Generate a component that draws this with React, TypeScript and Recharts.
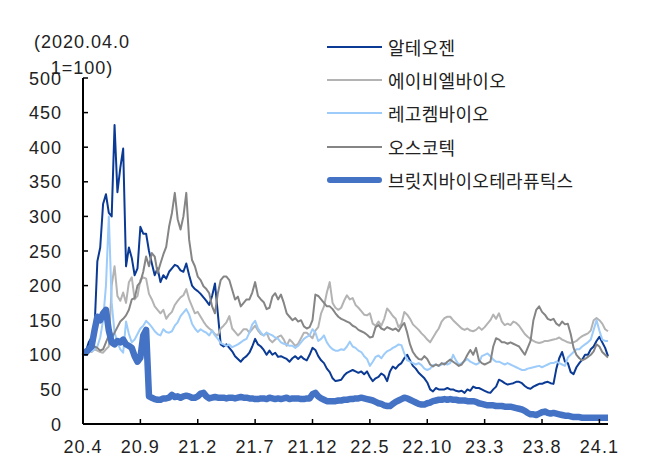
import React from 'react';
import { LineChart, Line, XAxis, YAxis } from 'recharts';

// one label per month, 4 points per month (roughly weekly)
const months = [
  '20.4', '20.5', '20.6', '20.7', '20.8', '20.9', '20.10', '20.11', '20.12',
  '21.1', '21.2', '21.3', '21.4', '21.5', '21.6', '21.7', '21.8', '21.9', '21.10', '21.11', '21.12',
  '22.1', '22.2', '22.3', '22.4', '22.5', '22.6', '22.7', '22.8', '22.9', '22.10', '22.11', '22.12',
  '23.1', '23.2', '23.3', '23.4', '23.5', '23.6', '23.7', '23.8', '23.9', '23.10', '23.11', '23.12',
  '24.1',
];
const tickLabels = ['20.4', '20.9', '21.2', '21.7', '21.12', '22.5', '22.10', '23.3', '23.8', '24.1'];
const yTicks = [0, 50, 100, 150, 200, 250, 300, 350, 400, 450, 500];

const alteogen = [
  100, 105, 118, 125, 135, 235, 255, 318, 332, 305, 300, 432, 335, 370, 398, 228, 255, 240, 215, 225,
  285, 275, 275, 250, 232, 215, 225, 205, 215, 210, 220, 225, 230, 228, 222, 220, 232, 215, 200, 195,
  192, 188, 183, 178, 172, 185, 203, 160, 115, 112, 115, 110, 105, 98, 94, 90, 95, 98, 103, 112,
  123, 115, 112, 107, 100, 106, 100, 103, 97, 98, 96, 94, 90, 95, 98, 94, 98, 94, 92, 100,
  110, 107, 98, 92, 88, 80, 75, 66, 62, 63, 64, 70, 74, 76, 78, 76, 74, 76, 72, 76,
  68, 62, 66, 68, 73, 70, 62, 76, 83, 80, 85, 88, 95, 100, 92, 84, 80, 74, 70, 66,
  60, 50, 47, 52, 50, 50, 50, 52, 50, 50, 48, 47, 48, 45, 50, 48, 54, 52, 52, 50,
  48, 46, 45, 50, 54, 64, 62, 59, 57, 58, 59, 61, 61, 59, 55, 52, 51, 54, 56, 58,
  58, 60, 61, 59, 58, 80, 95, 104, 90, 88, 75, 72, 82, 88, 93, 100, 100, 108, 112, 120,
  126, 118, 110, 98,
];

const abl = [
  100, 103, 106, 104, 108, 106, 104, 103, 108, 112, 200, 228, 185, 178, 190, 175, 205, 212, 180, 185,
  208, 212, 210, 188, 180, 170, 165, 160, 165, 152, 158, 162, 172, 178, 183, 186, 195, 180, 170, 160,
  162, 155, 148, 142, 138, 135, 130, 128, 138, 142, 147, 156, 138, 133, 128, 132, 137, 137, 132, 137,
  142, 135, 130, 128, 132, 122, 118, 122, 126, 128, 122, 113, 122, 118, 113, 116, 124, 132, 132, 128,
  124, 135, 140, 160, 170, 190, 205, 175, 168, 165, 168, 178, 186, 180, 182, 172, 168, 163, 158, 157,
  160, 145, 142, 148, 142, 152, 167, 162, 156, 152, 140, 145, 162, 158, 152, 144, 140, 136, 131, 127,
  122, 118, 125, 132, 138, 148, 153, 155, 155, 150, 146, 142, 138, 136, 138, 135, 134, 136, 140, 136,
  140, 145, 150, 158, 152, 160, 148, 143, 145, 143, 148, 146, 142, 136, 130, 126, 123, 120, 118, 117,
  118, 120, 120, 121, 122, 123, 125, 122, 120, 118, 117, 118, 120, 124, 127, 129, 131, 135, 150, 153,
  150, 145, 137, 134,
];

const legochem = [
  100, 103, 106, 105, 108, 112, 125, 150, 200, 300, 175, 132, 118, 108, 103, 148, 130, 118, 122, 130,
  138, 142, 149, 145, 140, 134, 130, 128, 137, 133, 132, 134, 142, 147, 156, 161, 166, 158, 145, 138,
  133, 137, 134, 132, 128, 135, 128, 123, 117, 115, 113, 115, 111, 113, 115, 118, 121, 123, 132, 144,
  149, 138, 132, 128, 132, 130, 128, 125, 123, 118, 116, 115, 113, 113, 110, 113, 118, 123, 126, 128,
  137, 132, 120, 123, 128, 118, 112, 108, 106, 106, 108, 107, 112, 119, 112, 110, 106, 104, 98, 94,
  84, 90, 97, 99, 95, 101, 105, 107, 110, 112, 115, 114, 102, 92, 90, 88, 86, 88, 85, 80,
  78, 80, 85, 86, 84, 86, 88, 86, 88, 100, 92, 86, 88, 91, 94, 90, 88, 86, 88, 98,
  100, 102, 98, 93, 90, 90, 88, 86, 88, 86, 84, 82, 80, 78, 78, 80, 81, 82, 83, 84,
  82, 84, 86, 88, 88, 90, 88, 86, 84, 96, 100, 104, 108, 108, 112, 115, 118, 122, 136, 150,
  135, 122, 120, 120,
];

const oscotec = [
  100, 105, 110, 108, 112, 110, 106, 108, 118, 128, 124, 132, 140, 148, 152, 157, 165, 180, 182, 200,
  205, 220, 242, 228, 247, 242, 218, 232, 245, 256, 285, 305, 334, 296, 281, 300, 334, 266, 237, 228,
  213, 208, 199, 195, 189, 170, 160, 189, 208, 213, 213, 208, 194, 180, 184, 170, 175, 180, 180, 190,
  205, 185, 180, 176, 166, 168, 184, 189, 180, 187, 175, 160, 155, 150, 153, 148, 150, 141, 138, 140,
  150, 187, 185, 180, 175, 170, 170, 166, 160, 155, 152, 150, 148, 146, 142, 140, 136, 134, 132, 129,
  125, 126, 140, 143, 138, 136, 140, 138, 136, 138, 134, 141, 146, 132, 115, 104, 98, 94, 93, 98,
  94, 86, 83, 86, 84, 88, 86, 90, 93, 90, 87, 84, 86, 92, 100, 107, 100, 110, 92, 88,
  86, 88, 90, 112, 124, 122, 118, 118, 116, 118, 116, 114, 112, 106, 100, 110, 120, 150, 165, 170,
  162, 158, 152, 150, 152, 145, 142, 148, 144, 145, 130, 110, 100, 95, 92, 94, 97, 100, 105, 115,
  112, 104, 100, 96,
];

const bridge = [
  105, 103, 108, 112, 135, 155, 150, 160, 165, 135, 118, 115, 120, 118, 122, 115, 113, 110, 98, 90,
  96, 128, 136, 40, 38, 36, 35, 35, 37, 37, 38, 42, 39, 40, 38, 40, 41, 40, 38, 38,
  40, 44, 45, 40, 37, 38, 39, 38, 38, 38, 37, 38, 38, 37, 38, 39, 38, 38, 37, 37,
  36, 36, 37, 37, 36, 38, 37, 36, 37, 36, 37, 38, 36, 37, 37, 37, 36, 36, 37, 37,
  43, 45, 40, 37, 35, 33, 33, 33, 33, 34, 34, 35, 35, 36, 36, 37, 37, 38, 37, 36,
  35, 34, 32, 30, 29, 27, 26, 26, 29, 32, 34, 36, 38, 37, 35, 33, 31, 29, 28, 28,
  30, 31, 33, 34, 35, 35, 36, 35, 36, 35, 35, 34, 34, 34, 33, 33, 33, 32, 30, 29,
  28, 27, 27, 27, 26, 26, 26, 25, 25, 25, 24, 23, 22, 21, 19, 16, 14, 14, 13, 15,
  17, 18, 16, 15, 16, 15, 14, 13, 12, 12, 11, 10, 10, 10, 9, 9, 9, 9, 9, 9,
  9, 9, 9, 9,
];

const series = [
  { key: 'alteogen', name: '알테오젠', color: '#0b3a94', width: 2 },
  { key: 'abl', name: '에이비엘바이오', color: '#b3b3b3', width: 2 },
  { key: 'legochem', name: '레고켐바이오', color: '#9dcbfa', width: 2 },
  { key: 'oscotec', name: '오스코텍', color: '#858585', width: 2 },
  { key: 'bridge', name: '브릿지바이오테라퓨틱스', color: '#4472c4', width: 6.5 },
];

const data = alteogen.map((v, i) => ({
  date: `${months[Math.floor(i / 4)]}-${(i % 4) + 1}`,
  alteogen: v,
  abl: abl[i],
  legochem: legochem[i],
  oscotec: oscotec[i],
  bridge: bridge[i],
}));

const numFont = '"Liberation Sans", Arial, sans-serif';
const krFont = '"Noto Sans CJK KR", "Noto Sans", sans-serif';

const XTick = ({ x, y, payload }: any) => (
  <g>
    <line x1={x} y1={y} x2={x} y2={y - 5} stroke="#000" strokeWidth={1.5} />
    <text x={x} y={y + 29} textAnchor="middle" fontSize={18} letterSpacing={1}
      fill="#222" fontFamily={numFont}>
      {String(payload.value).split('-')[0]}
    </text>
  </g>
);

const YTick = ({ x, y, payload }: any) => (
  <g>
    <line x1={x} y1={y} x2={x + 5} y2={y} stroke="#000" strokeWidth={1.5} />
    <text x={x - 21} y={y + 6.5} textAnchor="end" fontSize={18} letterSpacing={1}
      fill="#222" fontFamily={numFont}>
      {payload.value}
    </text>
  </g>
);

export default function App() {
  return (
    <div style={{ position: 'absolute', left: 0, top: 0, width: 649, height: 465, background: '#fff' }}>
      <LineChart width={649} height={465} data={data}
        margin={{ top: 78, right: 41, bottom: 10, left: 0 }}>
        <XAxis dataKey="date" type="category" ticks={tickLabels.map((t) => `${t}-1`)} interval={0}
          height={31} tickSize={0} tickMargin={0} tickLine={false}
          axisLine={{ stroke: '#000', strokeWidth: 2 }} tick={<XTick />} />
        <YAxis type="number" domain={[0, 500]} ticks={yTicks} interval={0} width={83}
          tickSize={0} tickMargin={0} tickLine={false}
          axisLine={{ stroke: '#000', strokeWidth: 2 }} tick={<YTick />} />
        {series.map((s) => (
          <Line key={s.key} dataKey={s.key} name={s.name} type="linear" stroke={s.color}
            strokeWidth={s.width} dot={false} activeDot={false} isAnimationActive={false}
            strokeLinejoin="round" />
        ))}
      </LineChart>

      <div style={{ position: 'absolute', left: 0, top: 29, width: 164, textAlign: 'center',
        fontFamily: numFont, fontSize: 18, letterSpacing: 1, color: '#222', lineHeight: '26px' }}>
        (2020.04.0<br />1=100)
      </div>

      <div style={{ position: 'absolute', left: 327, top: 30 }}>
        {series.map((s) => (
          <div key={s.key} style={{ display: 'flex', alignItems: 'center', height: 33.3 }}>
            <div style={{ width: 55, height: s.width > 3 ? 6 : 2, background: s.color,
              borderRadius: s.width > 3 ? 3 : 0 }} />
            <span style={{ marginLeft: 6, fontFamily: krFont, fontSize: 18, letterSpacing: 0.3,
              color: '#222', whiteSpace: 'nowrap' }}>{s.name}</span>
          </div>
        ))}
      </div>
    </div>
  );
}
